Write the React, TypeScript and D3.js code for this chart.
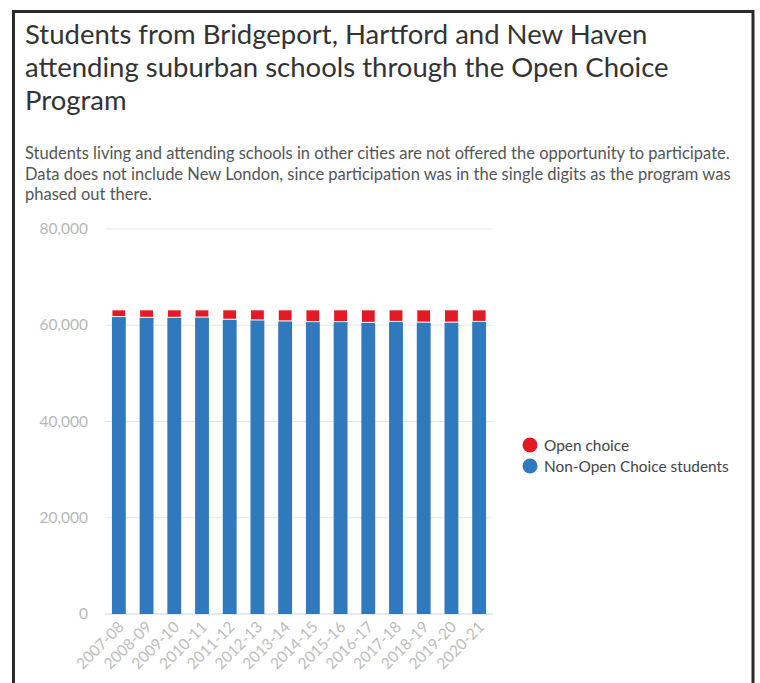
import React from "react";
import * as d3 from "d3";

const years = ["2007-08","2008-09","2009-10","2010-11","2011-12","2012-13","2013-14","2014-15","2015-16","2016-17","2017-18","2018-19","2019-20","2020-21"];
const nonOpenChoice = [61800,61650,61650,61700,61250,61100,60900,60750,60750,60600,60800,60650,60650,60800];
const openChoice = [1400,1550,1550,1500,1950,2100,2300,2450,2450,2600,2400,2550,2550,2400];
const yTicks = [0,20000,40000,60000,80000];
const seriesNames = ["Open choice","Non-Open Choice students"];
const seriesColors = ["#e31a23","#3179bd"];

const titleLines = ["Students from Bridgeport, Hartford and New Haven","attending suburban schools through the Open Choice","Program"];
const subLines = ["Students living and attending schools in other cities are not offered the opportunity to participate.","Data does not include New London, since participation was in the single digits as the program was","phased out there."];

export default function App() {
  const W = 760, H = 683;
  const x = d3.scaleBand<string>().domain(years).range([105, 493]).paddingInner(0.5).paddingOuter(0.25);
  const y = d3.scaleLinear().domain([0, 80000]).range([614, 229]);
  const fmt = d3.format(",");
  const font = "Lato, 'Open Sans', sans-serif";
  return (
    <svg width={W} height={H} style={{ position: "absolute", left: 0, top: 0, background: "#fff" }} fontFamily={font}>
      <rect x={0} y={0} width={W} height={H} fill="#fff" />
      <rect x={13.5} y={11.5} width={739.5} height={700} fill="none" stroke="#2a2a2a" strokeWidth={3} />
      {titleLines.map((t, i) => (
        <text key={i} x={25} y={44 + i * 33} fontSize={27.5} fill="#333">{t}</text>
      ))}
      {subLines.map((t, i) => (
        <text key={i} x={25} y={159 + i * 20.5} fontSize={16.5} fill="#555">{t}</text>
      ))}
      {yTicks.map((v) => (
        <g key={v}>
          <line x1={105} x2={493} y1={y(v)} y2={y(v)} stroke={v === 0 ? "#c9d3df" : "#e6e6e6"} strokeWidth={1} />
          <text x={88} y={y(v) + 5} textAnchor="end" fontSize={15.5} fill="#b8b8b8">{fmt(v)}</text>
        </g>
      ))}
      {years.map((yr, i) => {
        const bx = x(yr)!;
        const bw = x.bandwidth();
        const nb = nonOpenChoice[i];
        const oc = openChoice[i];
        return (
          <g key={yr}>
            <rect x={bx} y={y(nb)} width={bw} height={y(0) - y(nb)} fill={seriesColors[1]} />
            <rect x={bx} y={y(nb + oc)} width={bw} height={y(nb) - y(nb + oc)} fill={seriesColors[0]} stroke="#fff" strokeWidth={1} />
            <text transform={`translate(${bx + bw / 2 + 6},${628}) rotate(-45)`} textAnchor="end" fontSize={15.5} fill="#bdbdbd">{yr}</text>
          </g>
        );
      })}
      {seriesNames.map((s, i) => (
        <g key={s}>
          <circle cx={530} cy={445 + i * 21} r={7.5} fill={seriesColors[i]} />
          <text x={544} y={450.5 + i * 21} fontSize={15.4} fill="#444">{s}</text>
        </g>
      ))}
    </svg>
  );
}
